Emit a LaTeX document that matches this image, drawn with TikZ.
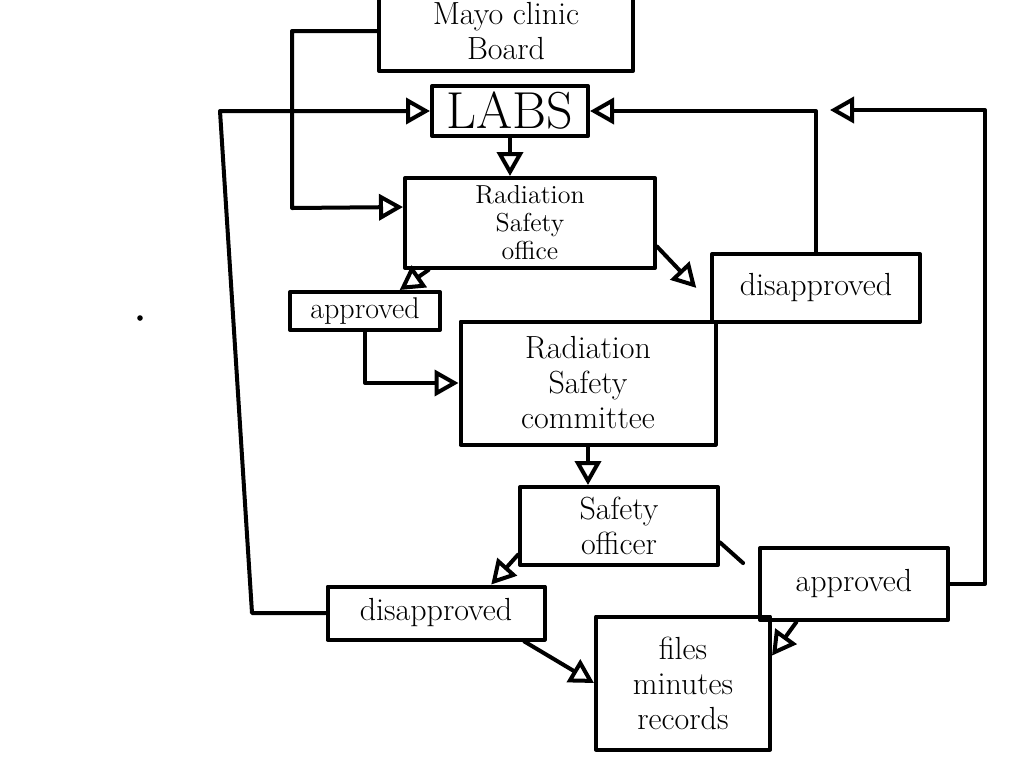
\documentclass[tikz,border=0pt]{standalone}
\usetikzlibrary{arrows.meta,calc}
\begin{document}
\begin{tikzpicture}[x=0.5pt,y=-0.5pt,
  line width=2pt, line join=round, line cap=round,
  box/.style={draw, line width=2pt, inner sep=1pt, align=center, font=\fontsize{16}{17.5}\selectfont},
  arr/.style={-{Triangle[open,length=12pt,width=13pt,line width=2pt]}},
  ln/.style={line width=2pt}]
\useasboundingbox (0,0) rectangle (1024,768);
% nodes
\node[box, minimum width=127pt, minimum height=40pt] (mayo) at (506,31) {Mayo clinic\\Board};
\node[box, minimum width=78pt, minimum height=25pt, font=\fontsize{26}{30}\selectfont] (labs) at (510,111) {LABS};
\node[box, minimum width=125pt, minimum height=45pt, font=\fontsize{13}{14}\selectfont] (rso) at (530,223) {Radiation\\Safety\\office};
\node[box, minimum width=75pt, minimum height=19pt, font=\fontsize{15}{16}\selectfont] (appr1) at (365,311) {approved};
\node[box, minimum width=104pt, minimum height=34pt] (dis1) at (816,288) {disapproved};
\node[box, minimum width=127.5pt, minimum height=61.5pt] (rsc) at (588,383) {Radiation\\Safety\\committee};
\node[box, minimum width=99pt, minimum height=39pt] (so) at (619,526) {Safety\\officer};
\node[box, minimum width=108.5pt, minimum height=26.5pt] (dis2) at (436,613) {disapproved};
\node[box, minimum width=94pt, minimum height=36pt] (appr2) at (854,584) {approved};
\node[box, minimum width=87pt, minimum height=66.5pt] (files) at (683,683) {files\\minutes\\records};
\coordinate (freeend) at (830,110);
% connectors
\draw[arr] (mayo.west) -- (292,31) -- (292,208) -- ($(rso.north west)!0.33!(rso.south west)$);
\draw[arr] (labs.south) -- (labs.south |- rso.north);
\draw[arr] (dis2.west) -- (252,613) -- (220,111) -- (labs.west);
\draw[arr] (dis1.north) |- (labs.east);
\draw[arr] ($(rso.south west)!0.1!(rso.south east)$) -- ($(appr1.north)!0.45!(appr1.north east)$);
\draw[arr, shorten >=10pt] ($(rso.south east)!0.25!(rso.north east)$) -- ($(dis1.south west)!0.3!(dis1.north west)$);
\draw[arr] (appr1.south) |- (rsc.west);
\draw[arr] (rsc.south) -- (rsc.south |- so.north);
\draw[arr] ($(so.south west)!0.15!(so.north west)$) -- ($(dis2.north)!0.5!(dis2.north east)$);
\draw[arr] ($(dis2.south east)!0.1!(dis2.south west)$) -- (files.west);
\draw[ln, shorten >=10pt] ($(so.south east)!0.3!(so.north east)$) -- ($(appr2.north west)!0.4!(appr2.south west)$);
\draw[arr] ($(appr2.south west)!0.2!(appr2.south east)$) -- ($(files.north east)!0.3!(files.south east)$);
\draw[arr] (appr2.east) -- (985,584) |- (freeend);
% stray dot
\fill (140,318) circle (1.4pt);
\end{tikzpicture}
\end{document}
